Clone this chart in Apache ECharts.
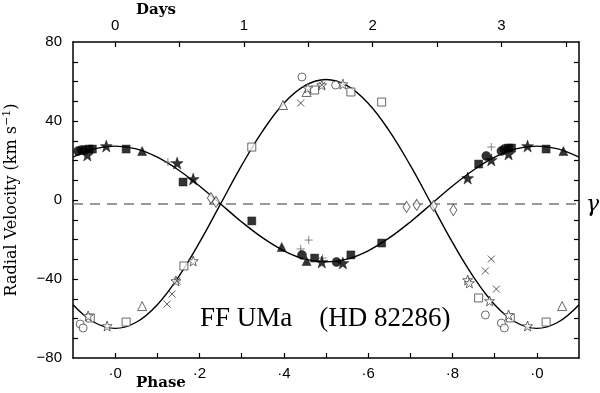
<!DOCTYPE html>
<html>
<head>
<meta charset="utf-8">
<script src="https://cdn.jsdelivr.net/npm/echarts@6/dist/echarts.min.js"></script>
<style>
  html, body { margin: 0; padding: 0; background: #fff; }
  #chart { width: 600px; height: 393px; }
</style>
</head>
<body>
<div id="chart"></div>
<script>
// orbital phase grid for the fitted curves
const phaseGrid = [-0.1, -0.05, 0, 0.05, 0.1, 0.15, 0.2, 0.25, 0.3, 0.35, 0.4, 0.45, 0.5,
  0.55, 0.6, 0.65, 0.7, 0.75, 0.8, 0.85, 0.9, 0.95, 1.0, 1.05, 1.1]
const primaryFit = [21.7, 25.9, 27.3, 25.9, 21.7, 15.2, 7.1, -2.0, -11.1, -19.2, -25.7, -29.9, -31.3,
  -29.9, -25.7, -19.2, -11.1, -2.0, 7.1, 15.2, 21.7, 25.9, 27.3, 25.9, 21.7]
const secondaryFit = [-53.0, -61.9, -65.0, -61.9, -53.0, -39.0, -21.5, -2.0, 17.5, 35.0, 49.0, 57.9, 61.0,
  57.9, 49.0, 35.0, 17.5, -2.0, -21.5, -39.0, -53.0, -61.9, -65.0, -61.9, -53.0]
const gammaVel = -2

// primary star (filled symbols): [phase, km/s]
const priCircle = [[-0.088, 24.8], [-0.080, 25.3], [-0.073, 25.3], [0.880, 22.3], [0.916, 24.8],
  [0.923, 25.8], [0.443, -27.8], [0.525, -31.4]]
const priSquare = [[-0.062, 25.8], [-0.054, 25.8], [0.026, 25.8], [0.161, 9.1], [0.862, 18.2],
  [0.933, 26.3], [0.940, 26.3], [1.022, 25.8], [0.324, -10.6], [0.473, -29.4], [0.559, -27.8], [0.632, -21.8]]
const priTriangle = [[0.064, 24.8], [1.063, 24.8], [0.395, -23.8], [0.454, -30.9]]
const priStar = [[-0.066, 22.8], [-0.021, 27.3], [0.147, 18.7], [0.185, 10.6], [0.836, 11.1],
  [0.892, 20.3], [0.933, 23.3], [0.978, 27.3], [0.490, -31.4], [0.540, -31.9]]
const priPlus = [[0.125, 19.2], [0.892, 26.8], [0.459, -20.3], [0.440, -24.8], [0.492, -29.4]]

// secondary star (open symbols)
const secCircle = [[-0.083, -62.8], [-0.076, -64.8], [0.443, 62.3], [0.523, 58.2], [0.878, -58.2],
  [0.916, -62.3], [0.923, -64.8]]
const secSquare = [[-0.059, -59.7], [0.026, -61.8], [0.163, -33.4], [0.324, 26.8], [0.473, 55.7],
  [0.559, 54.7], [0.632, 49.6], [0.862, -49.6], [0.937, -59.7], [1.022, -61.8]]
const secTriangle = [[0.064, -53.7], [1.060, -53.7], [0.398, 48.1], [0.454, 54.7]]
const secStar = [[-0.064, -58.7], [-0.019, -63.8], [0.144, -41.0], [0.185, -30.9], [0.457, 56.7],
  [0.490, 58.2], [0.540, 58.7], [0.836, -40.5], [0.840, -42.0], [0.888, -51.1], [0.933, -58.2], [0.978, -63.8]]
const secCross = [[0.123, -52.7], [0.135, -47.6], [0.147, -41.0], [0.440, 49.1], [0.490, 58.2],
  [0.878, -35.9], [0.892, -29.9], [0.904, -45.1]]
const secDiamond = [[0.227, 1.0], [0.239, -1.0], [0.691, -3.5], [0.715, -2.5], [0.755, -3.0], [0.802, -5.1]]

// axis ticks / labels
const phaseTicks = [0, 0.1, 0.2, 0.3, 0.4, 0.5, 0.6, 0.7, 0.8, 0.9, 1.0]
const phaseLabels = [0, 0.2, 0.4, 0.6, 0.8, 1.0]
const dayTicks = [0, 0.5, 1, 1.5, 2, 2.5, 3, 3.5]
const dayLabels = [0, 1, 2, 3]
const velTicks = [-70, -60, -50, -40, -30, -20, -10, 0, 10, 20, 30, 40, 50, 60, 70]
const velLabels = [-80, -40, 0, 40, 80]
const period = 3.275 // days per phase unit, from the top axis

const STAR = 'path://M0,-10L2.35,-3.24L9.51,-3.09L3.8,1.24L5.88,8.09L0,4L-5.88,8.09L-3.8,1.24L-9.51,-3.09L-2.35,-3.24Z'
const CROSS = 'path://M0,0L10,10M10,0L0,10'
const PLUS = 'path://M5,0L5,10M0,5L10,5'

const chart = echarts.init(document.getElementById('chart'))

const frame = { show: true, onZero: false, lineStyle: { color: '#000', width: 1.5 } }
const numFont = { color: '#000', fontFamily: 'Liberation Sans', fontSize: 15 }

function pts(name, data, symbol, size, filled, extra) {
  return Object.assign({
    name,
    type: 'scatter',
    data,
    symbol,
    symbolSize: size,
    z: 5,
    itemStyle: filled
      ? { color: '#000', borderColor: '#000', borderWidth: 0.5 }
      : { color: '#fff', borderColor: '#444', borderWidth: 1 }
  }, extra || {})
}

function curve(values) {
  return phaseGrid.map((p, i) => [p, values[i]])
}

chart.setOption({
  animation: false,
  grid: { left: 73, right: 21, top: 42, bottom: 35, outerBoundsMode: 'none' },
  xAxis: [{
    type: 'value',
    position: 'bottom',
    min: -0.1,
    max: 1.1,
    axisLine: frame,
    axisTick: { show: true, inside: true, length: 5, customValues: phaseTicks, lineStyle: { color: '#000', width: 1.2 } },
    axisLabel: Object.assign({
      customValues: phaseLabels,
      margin: 8,
      formatter: v => '·' + Math.round((v % 1) * 10)
    }, numFont),
    splitLine: { show: false }
  }, {
    type: 'value',
    position: 'top',
    min: -0.1 * period,
    max: 1.1 * period,
    axisLine: frame,
    axisTick: { show: true, inside: true, length: 5, customValues: dayTicks, lineStyle: { color: '#000', width: 1.2 } },
    axisLabel: Object.assign({ customValues: dayLabels, margin: 9 }, numFont),
    splitLine: { show: false }
  }],
  yAxis: [{
    type: 'value',
    position: 'left',
    min: -80,
    max: 80,
    axisLine: frame,
    axisTick: { show: true, inside: true, length: 5, customValues: velTicks, lineStyle: { color: '#000', width: 1.2 } },
    axisLabel: Object.assign({
      customValues: velLabels,
      margin: 11,
      formatter: v => String(v).replace('-', '\u2212')
    }, numFont),
    splitLine: { show: false },
    name: 'Radial Velocity (km s{sup|\u22121})',
    nameLocation: 'middle',
    nameRotate: 90,
    nameGap: 51,
    nameTextStyle: {
      color: '#000',
      fontFamily: 'DejaVu Serif',
      fontSize: 16,
      rich: { sup: { fontFamily: 'DejaVu Serif', fontSize: 11, verticalAlign: 'top', padding: [0, 0, 9, 0], color: '#000' } }
    }
  }, {
    type: 'value',
    position: 'right',
    min: -80,
    max: 80,
    axisLine: frame,
    axisTick: { show: true, inside: true, length: 5, customValues: velTicks, lineStyle: { color: '#000', width: 1.2 } },
    axisLabel: { show: false },
    splitLine: { show: false }
  }],
  graphic: [
    { type: 'text', left: 136, top: 3, style: { text: 'Days', font: '600 15px "DejaVu Serif"', fill: '#000' } },
    { type: 'text', left: 136, top: 376, style: { text: 'Phase', font: '600 15px "DejaVu Serif"', fill: '#000' } },
    { type: 'text', left: 586, top: 194, style: { text: 'γ', font: 'italic 22px "DejaVu Serif"', fill: '#000' } },
    { type: 'text', left: 200, top: 305, style: { text: 'FF UMa    (HD 82286)', font: '27px "Liberation Serif"', fill: '#000' } }
  ],
  series: [
    {
      type: 'line', data: [[-0.1, gammaVel], [1.1, gammaVel]], symbol: 'none', silent: true, z: 1,
      lineStyle: { color: '#777', width: 1.6, type: [10, 7] }
    },
    { type: 'line', data: curve(primaryFit), smooth: 0.4, symbol: 'none', z: 2, lineStyle: { color: '#000', width: 1.4 } },
    { type: 'line', data: curve(secondaryFit), smooth: 0.4, symbol: 'none', z: 2, lineStyle: { color: '#000', width: 1.4 } },
    pts('secDiamond', secDiamond, 'diamond', [7, 11], false),
    pts('secCircle', secCircle, 'circle', 8, false),
    pts('secSquare', secSquare, 'rect', 8, false),
    pts('secTriangle', secTriangle, 'triangle', 9, false),
    pts('secStar', secStar, STAR, 10, false),
    pts('secCross', secCross, CROSS, 7, false, { itemStyle: { color: 'none', borderColor: '#333', borderWidth: 1 } }),
    pts('priPlus', priPlus, PLUS, 8, false, { itemStyle: { color: 'none', borderColor: '#666', borderWidth: 1 } }),
    pts('priCircle', priCircle, 'circle', 9, true),
    pts('priSquare', priSquare, 'rect', 8, true),
    pts('priTriangle', priTriangle, 'triangle', 9, true),
    pts('priStar', priStar, STAR, 12, true)
  ]
})
</script>
</body>
</html>
